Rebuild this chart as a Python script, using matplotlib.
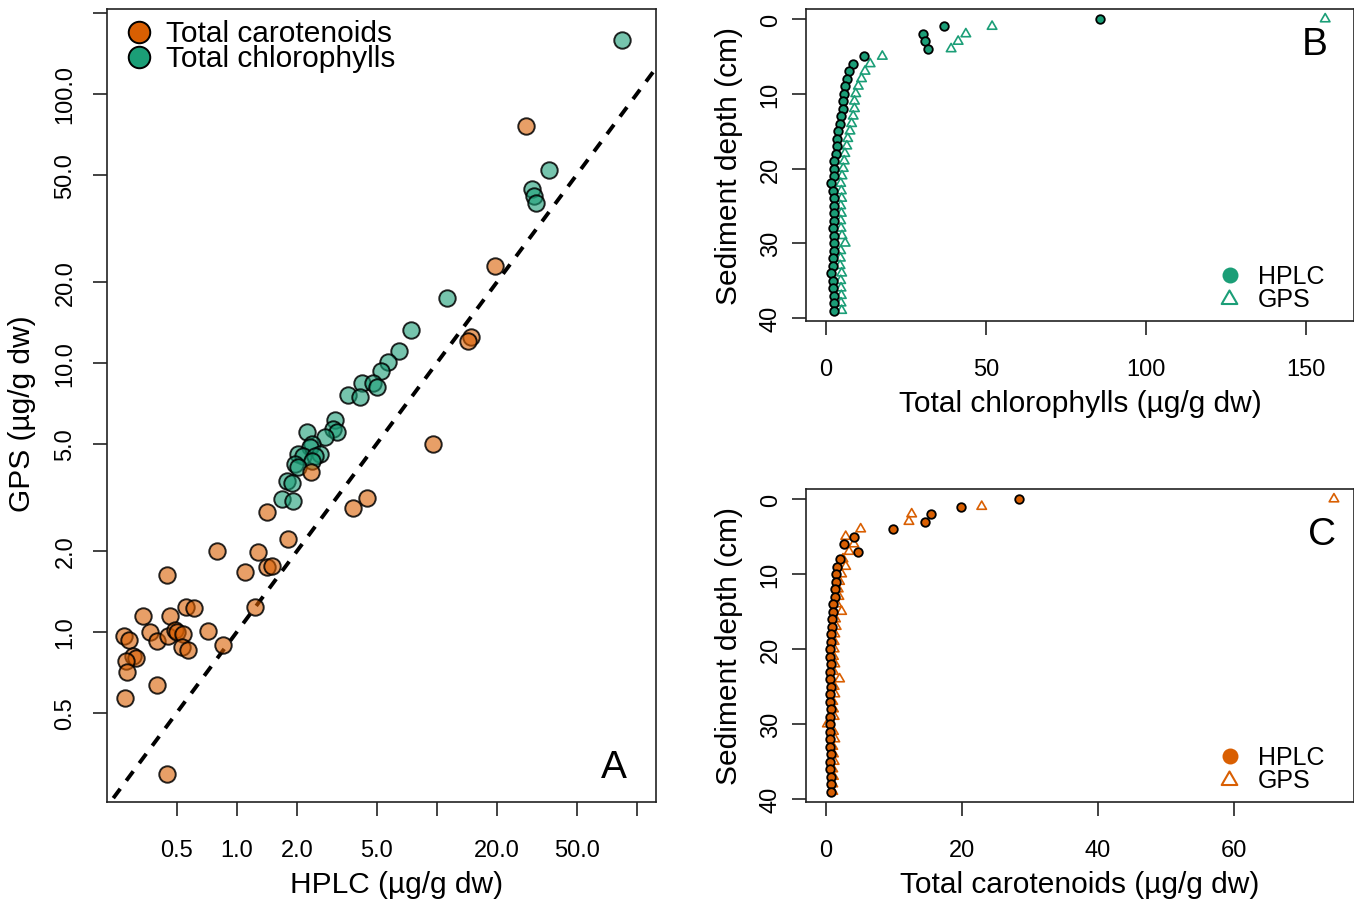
import matplotlib
matplotlib.use('Agg')
import matplotlib.pyplot as plt
from matplotlib.path import Path
import numpy as np

plt.rcParams['font.family'] = ['Liberation Sans', 'DejaVu Sans']

# ---------------- data ----------------
# Panel A: GPS vs HPLC (log-log)
chl_hplc_A = [84.3, 36.3, 29.9, 30.6, 31.3, 11.3, 7.39, 6.44, 5.67, 5.29, 4.25, 4.82, 5.05,
              3.61, 4.15, 3.11, 3.04, 3.18, 2.77, 2.25, 2.39, 2.33, 2.62, 2.03, 2.15, 2.47,
              2.39, 1.96, 2.03, 1.79, 1.89, 1.69, 1.92]
chl_gps_A = [158.8, 52.2, 44.3, 41.8, 39.3, 17.4, 13.3, 11.1, 10.1, 9.34, 8.43, 8.43, 8.15,
             7.61, 7.47, 6.14, 5.69, 5.54, 5.31, 5.54, 5.00, 4.87, 4.59, 4.59, 4.51, 4.51,
             4.32, 4.21, 4.10, 3.64, 3.58, 3.12, 3.07]
car_hplc_A = [27.9, 19.5, 14.9, 14.3, 9.52, 2.36, 4.50, 3.83, 1.42, 1.81, 0.798, 1.28, 1.10,
              1.42, 1.50, 0.448, 1.24, 0.557, 0.612, 0.340, 0.464, 0.719, 0.368, 0.273, 0.289,
              0.399, 0.453, 0.491, 0.503, 0.539, 0.533, 0.571, 0.855, 0.303, 0.313, 0.279,
              0.282, 0.399, 0.276, 0.448]
car_gps_A = [76.0, 22.9, 12.5, 12.1, 5.00, 3.94, 3.15, 2.89, 2.79, 2.22, 2.00, 1.98, 1.67,
             1.74, 1.76, 1.63, 1.24, 1.24, 1.23, 1.15, 1.15, 1.01, 1.00, 0.966, 0.934, 0.926,
             0.966, 1.02, 1.00, 0.983, 0.880, 0.857, 0.895, 0.814, 0.800, 0.780, 0.710, 0.635,
             0.568, 0.297]

# Panels B, C: depth profiles
depth = list(range(40))
chl_hplc = [85.7, 36.8, 30.2, 30.9, 31.8, 12.0, 8.3, 7.2, 6.5, 5.9, 5.7, 5.4, 5.2, 4.7, 4.4,
            3.9, 3.5, 3.3, 3.0, 2.6, 2.5, 2.4, 1.5, 2.3, 2.4, 2.6, 2.5, 2.4, 2.3, 2.4, 2.6,
            2.5, 2.3, 2.2, 1.6, 2.2, 2.3, 2.4, 2.4, 2.5]
chl_gps = [156.0, 51.9, 43.7, 41.3, 39.1, 17.6, 13.8, 12.2, 11.1, 10.1, 9.3, 8.9, 8.9, 8.5,
           8.0, 7.5, 6.8, 6.5, 5.9, 5.7, 5.4, 5.0, 4.6, 4.8, 4.9, 4.6, 4.8, 4.6, 4.7, 5.0,
           6.0, 4.6, 4.5, 4.4, 4.9, 4.6, 4.7, 4.8, 4.7, 4.9]
car_hplc = [28.4, 19.9, 15.5, 14.6, 9.8, 4.1, 2.7, 4.7, 2.0, 1.6, 1.5, 1.4, 1.3, 1.3, 1.1,
            1.0, 0.9, 0.9, 0.8, 0.7, 0.6, 0.6, 0.7, 0.6, 0.6, 0.7, 0.6, 0.6, 0.7, 0.6, 0.6,
            0.6, 0.6, 0.6, 0.7, 0.6, 0.6, 0.7, 0.7, 0.8]
car_gps = [74.7, 22.9, 12.6, 12.2, 5.1, 2.9, 4.1, 3.4, 2.5, 2.9, 2.3, 2.0, 1.8, 1.9, 1.6,
           2.3, 1.4, 1.5, 1.3, 1.2, 1.2, 1.1, 1.3, 1.1, 2.0, 1.2, 1.3, 1.0, 1.1, 1.2, 0.2,
           1.1, 1.3, 1.0, 1.1, 1.2, 1.0, 1.1, 1.0, 1.0]

logA_ticks = [0.5, 1, 2, 5, 10, 20, 50, 100]
logA_xlabels = ['0.5', '1.0', '2.0', '5.0', '', '20.0', '50.0', '']
logA_yticks = [0.5, 1, 2, 5, 10, 20, 50, 100, 200]
logA_ylabels = ['0.5', '1.0', '2.0', '5.0', '10.0', '20.0', '50.0', '100.0', '']

# ---------------- layout ----------------
W, H = 1354, 903
fig = plt.figure(figsize=(W / 100, H / 100), dpi=100)

def rect(l, t, r, b):
    return [l / W, 1 - b / H, (r - l) / W, (b - t) / H]

ORANGE = '#D95F02'
GREEN = '#1B9E77'
TICK_FS = 17
LAB_FS = 21.5

tri = Path([(0, 1), (-0.866, -0.5), (0.866, -0.5), (0, 1)],
           [Path.MOVETO, Path.LINETO, Path.LINETO, Path.CLOSEPOLY])

def style(ax, ypad):
    for s in ax.spines.values():
        s.set_linewidth(1.2)
        s.set_color('#222222')
    ax.tick_params(direction='out', length=10, width=1.2, labelsize=TICK_FS,
                   color='#222222')
    ax.tick_params(axis='x', pad=17)
    ax.tick_params(axis='y', labelrotation=90, pad=ypad)
    ax.minorticks_off()

def fix_ylabels(ax):
    for lbl in ax.get_yticklabels():
        lbl.set_va('center')

def to_ax(ax, px, py):
    bb = ax.get_position()
    return ((px / W - bb.x0) / bb.width, ((1 - py / H) - bb.y0) / bb.height)

# ---------------- Panel A ----------------
axA = fig.add_axes(rect(107, 10, 656, 803))
axA.set_xscale('log')
axA.set_yscale('log')
axA.set_xlim(0.2243, 124.8)
axA.set_ylim(0.2333, 207)
lims = np.array([0.01, 1000])
axA.plot(lims, lims, color='black', lw=2.8, dashes=(3, 2.6), zorder=1)
axA.scatter(chl_hplc_A, chl_gps_A, s=140, facecolor=(0.106, 0.620, 0.467, 0.6),
            edgecolor=(0, 0, 0, 0.85), linewidth=1.4, zorder=2)
axA.scatter(car_hplc_A, car_gps_A, s=140, facecolor=(0.851, 0.373, 0.008, 0.6),
            edgecolor=(0, 0, 0, 0.85), linewidth=1.4, zorder=3)
style(axA, 12)
axA.set_xticks(logA_ticks)
axA.set_xticklabels(logA_xlabels)
axA.set_yticks(logA_yticks)
axA.set_yticklabels(logA_ylabels)
axA.minorticks_off()
fix_ylabels(axA)
axA.set_xlabel('HPLC (µg/g dw)', fontsize=LAB_FS, va='center')
axA.xaxis.set_label_coords(*to_ax(axA, 397, 885))
axA.set_ylabel('GPS (µg/g dw)', fontsize=LAB_FS, va='center')
axA.yaxis.set_label_coords(*to_ax(axA, 22, 414))
axA.text(*to_ax(axA, 614, 768), 'A', transform=axA.transAxes, fontsize=28,
         ha='center', va='center')
# legend A
for (py, col, lab) in [(33, ORANGE, 'Total carotenoids'), (58, GREEN, 'Total chlorophylls')]:
    axA.plot(*to_ax(axA, 139, py), marker='o', ms=15.5, mfc=col, mec='black', mew=1.4,
             transform=axA.transAxes, clip_on=False, ls='none')
    axA.text(*to_ax(axA, 166, py + 1), lab, transform=axA.transAxes, fontsize=LAB_FS,
             ha='left', va='center')

# ---------------- Panels B and C ----------------
def profile(ax, hplc, gps, col, xlim, xticks, xlabel, letter, letter_xy, leg_y):
    ax.scatter(gps, depth, marker=tri, s=62, facecolor='none', edgecolor=col,
               linewidth=1.2, zorder=2)
    ax.scatter(hplc, depth, marker='o', s=38, facecolor=col, edgecolor='black',
               linewidth=1.3, zorder=3)
    ax.set_xlim(*xlim)
    ax.set_ylim(40.4, -1.34)
    style(ax, 7.5)
    ax.set_xticks(xticks)
    ax.set_yticks([0, 10, 20, 30, 40])
    fix_ylabels(ax)
    ax.set_xlabel(xlabel, fontsize=LAB_FS, va='center')
    bb = ax.get_position()
    ax.xaxis.set_label_coords(0.5, -82 / (bb.height * H))
    ax.set_ylabel('Sediment depth (cm)', fontsize=LAB_FS, va='center')
    ax.yaxis.set_label_coords(-77 / (bb.width * W), 0.5)
    ax.text(*to_ax(ax, *letter_xy), letter, transform=ax.transAxes, fontsize=28,
            ha='center', va='center')
    ax.plot(*to_ax(ax, 1230, leg_y), marker='o', ms=11.5, mfc=col, mec='none',
            transform=ax.transAxes, clip_on=False, ls='none')
    ax.plot(*to_ax(ax, 1229, leg_y + 24), marker=tri, ms=13, mfc='none', mec=col, mew=1.5,
            transform=ax.transAxes, clip_on=False, ls='none')
    ax.text(*to_ax(ax, 1258, leg_y + 1), 'HPLC', transform=ax.transAxes, fontsize=18,
            ha='left', va='center')
    ax.text(*to_ax(ax, 1258, leg_y + 24), 'GPS', transform=ax.transAxes, fontsize=18,
            ha='left', va='center')

axB = fig.add_axes(rect(806, 10, 1354, 322))
profile(axB, chl_hplc, chl_gps, GREEN, (-6.25, 165.0), [0, 50, 100, 150],
        'Total chlorophylls (µg/g dw)', 'B', (1315, 45), 276)

axC = fig.add_axes(rect(806, 490, 1354, 803))
profile(axC, car_hplc, car_gps, ORANGE, (-2.94, 77.65), [0, 20, 40, 60],
        'Total carotenoids (µg/g dw)', 'C', (1322, 535), 757)

fig.savefig('out.png', dpi=100)
